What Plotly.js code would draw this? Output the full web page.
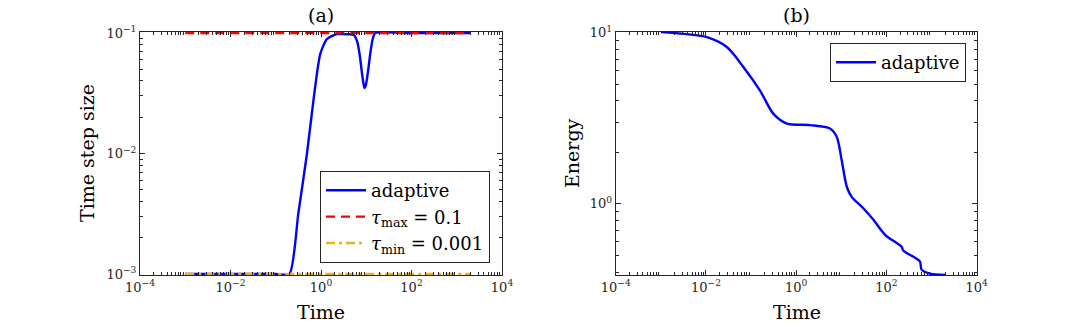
<!DOCTYPE html>
<html>
<head>
<meta charset="utf-8">
<script src="https://cdn.plot.ly/plotly-3.0.1.min.js"></script>
<style>body{margin:0;background:#fff}#plot{width:1081px;height:326px}</style>
</head>
<body>
<div id="plot"></div>
<script>
// (a) time step size
const tStep = [0.001, 0.01, 0.1, 0.2, 0.316, 0.49, 0.68, 0.96, 1.35, 2.24, 4.0, 5.25, 6.3, 7.2, 7.9, 8.6, 9.1, 9.8, 10.5, 11.2, 12.3, 13.5, 14.8, 15.8, 100, 2000];
const stepAdaptive = [0.001, 0.001, 0.001, 0.001, 0.0032, 0.01, 0.0275, 0.0668, 0.089, 0.0977, 0.0977, 0.0966, 0.085, 0.065, 0.049, 0.039, 0.035, 0.037, 0.043, 0.0513, 0.068, 0.085, 0.096, 0.1, 0.1, 0.1];
const tBounds = [0.001, 2000];
const tauMax = [0.1, 0.1];
const tauMin = [0.001, 0.001];

// (b) energy
const tEnergy = [0.001, 0.0105, 0.029, 0.068, 0.158, 0.31, 0.62, 2.04, 5.6, 7.9, 10.2, 13.2, 17, 31, 51, 93, 219, 234, 550, 600, 933, 2000];
const energy = [10.1, 9.43, 8.26, 6.3, 4.6, 3.37, 2.95, 2.89, 2.76, 2.47, 1.80, 1.26, 1.10, 0.94, 0.81, 0.66, 0.56, 0.535, 0.461, 0.413, 0.391, 0.384];

// tick labels
const xTicks = [1e-4, 1e-2, 1, 1e2, 1e4];
const xTickText = ["10<sup>−4</sup>", "10<sup>−2</sup>", "10<sup>0</sup>", "10<sup>2</sup>", "10<sup>4</sup>"];
const yTicksA = [1e-3, 1e-2, 1e-1];
const yTickTextA = ["10<sup>−3</sup>", "10<sup>−2</sup>", "10<sup>−1</sup>"];
const yTicksB = [1, 10];
const yTickTextB = ["10<sup>0</sup>", "10<sup>1</sup>"];

const serif = "DejaVu Serif";
const ink = "#262626";

function minorVals(lo, hi) {
  const v = [];
  for (let d = lo; d < hi; d++) for (let k = 2; k <= 9; k++) v.push(k * Math.pow(10, d));
  return v;
}

function logAxis(domain, range, vals, text, anchor, minor) {
  return {
    type: "log", domain: domain, range: range, anchor: anchor,
    tickmode: "array", tickvals: vals, ticktext: text,
    ticks: "inside", ticklen: 5, tickcolor: ink,
    showline: true, linecolor: ink, linewidth: 1, mirror: "ticks",
    showgrid: false, zeroline: false,
    tickfont: {family: serif, size: 13, color: ink},
    minor: {ticks: "inside", ticklen: 3, tickcolor: ink, tickmode: "array", tickvals: minor}
  };
}

const data = [
  {x: tStep, y: stepAdaptive, xaxis: "x", yaxis: "y", mode: "lines", name: "adaptive",
   line: {color: "#0000ff", width: 2.4, shape: "spline", smoothing: 0.6}},
  {x: tBounds, y: tauMax, xaxis: "x", yaxis: "y", mode: "lines", name: "<i>τ</i><sub>max</sub> = 0.1",
   line: {color: "#ff0000", width: 2.4, dash: "9px,6px"}},
  {x: tBounds, y: tauMin, xaxis: "x", yaxis: "y", mode: "lines", name: "<i>τ</i><sub>min</sub> = 0.001",
   line: {color: "#EDB120", width: 2.4, dash: "9px,4px,3px,4px"}},
  {x: tEnergy, y: energy, xaxis: "x2", yaxis: "y2", mode: "lines", name: "adaptive",
   legend: "legend2", line: {color: "#0000ff", width: 2.4, shape: "spline", smoothing: 0.8}}
];

const yTop = 1 - 32 / 326, yBot = 1 - 275 / 326;
const big = {size: 19, color: "#000"};
function label(text, px, py, angle) {
  return {text: text, x: px / 1081, y: 1 - py / 326, xref: "paper", yref: "paper",
    xanchor: "center", yanchor: "middle", showarrow: false, textangle: angle || 0, font: big};
}

const layout = {
  width: 1081, height: 326,
  margin: {l: 0, r: 0, t: 0, b: 0},
  paper_bgcolor: "#fff", plot_bgcolor: "#fff",
  font: {family: serif, color: ink},
  xaxis: logAxis([140 / 1081, 502 / 1081], [-4, 4], xTicks, xTickText, "y", minorVals(-4, 4)),
  yaxis: logAxis([yBot, yTop], [-3.008, -0.992], yTicksA, yTickTextA, "x", minorVals(-3, -1)),
  xaxis2: logAxis([615.7 / 1081, 976.7 / 1081], [-4, 4], xTicks, xTickText, "y2", minorVals(-4, 4)),
  yaxis2: logAxis([yBot, yTop], [-0.4155, 1.005], yTicksB, yTickTextB, "x2", minorVals(-1, 1)),
  legend: {x: 490 / 1081, xanchor: "right", y: 1 - 263 / 326, yanchor: "bottom",
    bgcolor: "#fff", bordercolor: ink, borderwidth: 1,
    font: {family: serif, size: 18, color: "#000"}, itemwidth: 40},
  legend2: {x: 966 / 1081, xanchor: "right", y: 1 - 43 / 326, yanchor: "top",
    bgcolor: "#fff", bordercolor: ink, borderwidth: 1,
    font: {family: serif, size: 18, color: "#000"}, itemwidth: 40},
  annotations: [
    label("(a)", 321, 15),
    label("(b)", 796, 15),
    label("Time", 321, 312),
    label("Time", 797, 312),
    label("Time step size", 87, 153, -90),
    label("Energy", 572, 153, -90)
  ]
};

Plotly.newPlot("plot", data, layout, {displayModeBar: false, staticPlot: true});
</script>
</body>
</html>
